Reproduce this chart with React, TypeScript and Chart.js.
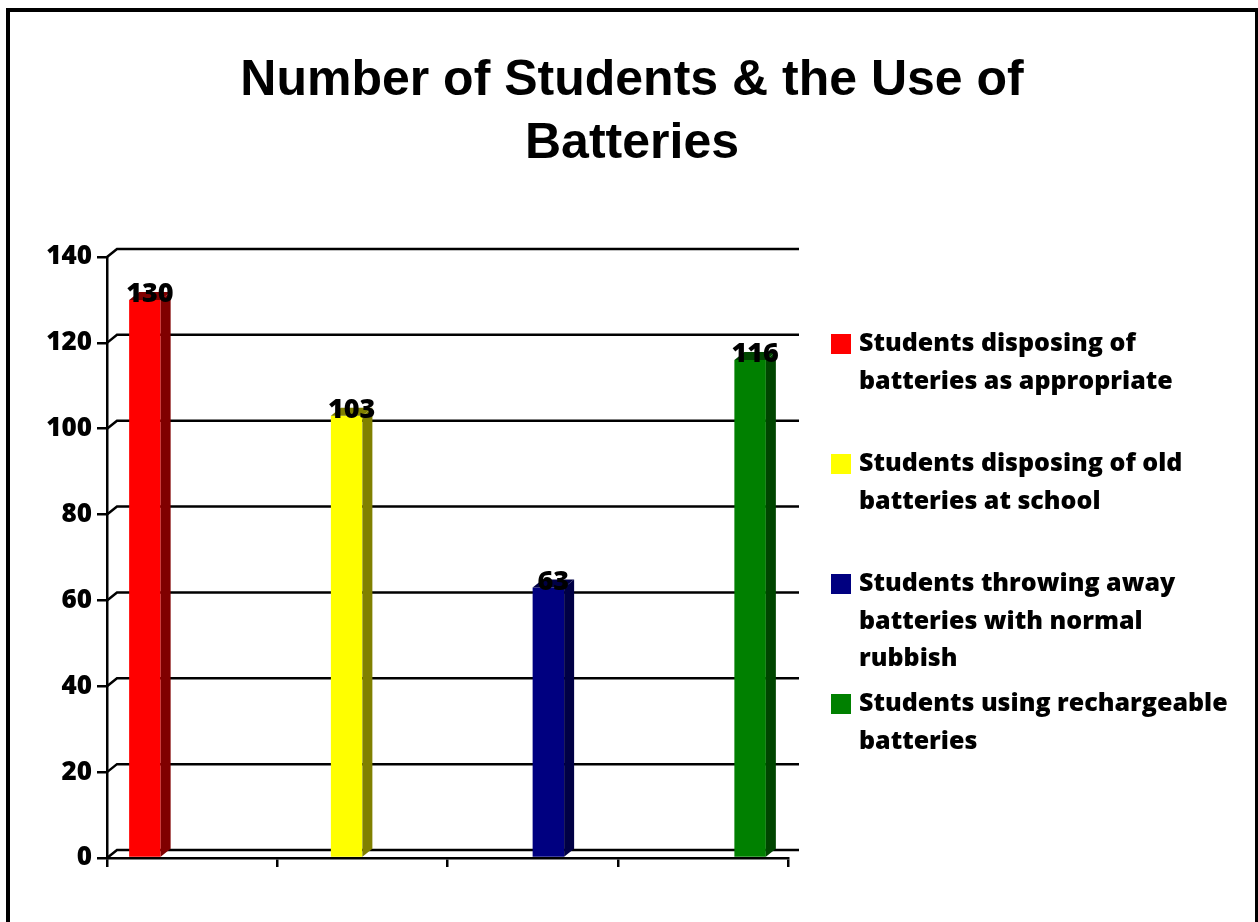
import React, { useEffect, useRef } from "react";
import { Chart, registerables } from "chart.js";

Chart.register(...registerables);

const titleLines = ["Number of Students & the Use of", "Batteries"];
const categories = ["", "", "", ""];
const seriesLabels = [
  ["Students disposing of", "batteries as appropriate"],
  ["Students disposing of old", "batteries at school"],
  ["Students throwing away", "batteries with normal", "rubbish"],
  ["Students using rechargeable", "batteries"],
];
const seriesValues = [130, 103, 63, 116];
const frontColors = ["#FF0000", "#FFFF00", "#000080", "#008000"];
const sideColors = ["#800000", "#808000", "#000045", "#004500"];
const yTicks = { min: 0, max: 140, step: 20 };

const FONT = "'Open Sans', Lato, sans-serif";
const DX = 10;
const DY = -8;

const threeDPlugin = {
  id: "threeD",
  beforeDatasetsDraw(chart: any) {
    const { ctx, chartArea } = chart;
    const ys = chart.scales.y;
    ctx.save();
    ctx.strokeStyle = "#000";
    ctx.lineWidth = 2.5;
    for (let v = yTicks.min; v <= yTicks.max; v += yTicks.step) {
      const y = ys.getPixelForValue(v);
      ctx.beginPath();
      ctx.moveTo(chartArea.left, y);
      ctx.lineTo(chartArea.left + DX, y + DY);
      ctx.lineTo(chartArea.right + DX + 1, y + DY);
      ctx.stroke();
    }
    ctx.restore();
  },
  afterDatasetsDraw(chart: any) {
    const { ctx } = chart;
    ctx.save();
    chart.data.datasets.forEach((ds: any, i: number) => {
      const meta = chart.getDatasetMeta(i);
      meta.data.forEach((el: any, j: number) => {
        const v = ds.data[j];
        if (v === null || v === undefined) return;
        const { x, y, base, width } = el.getProps(["x", "y", "base", "width"], true);
        const l = x - width / 2;
        const r = x + width / 2;
        ctx.fillStyle = sideColors[i];
        ctx.beginPath();
        ctx.moveTo(r, y);
        ctx.lineTo(r + DX, y + DY);
        ctx.lineTo(r + DX, base + DY);
        ctx.lineTo(r, base);
        ctx.closePath();
        ctx.fill();
        ctx.beginPath();
        ctx.moveTo(l, y);
        ctx.lineTo(l + DX, y + DY);
        ctx.lineTo(r + DX, y + DY);
        ctx.lineTo(r, y);
        ctx.closePath();
        ctx.fill();
        ctx.fillStyle = "#000";
        ctx.font = `800 27px ${FONT}`;
        ctx.textAlign = "center";
        ctx.textBaseline = "alphabetic";
        ctx.fillText(String(v), x + DX / 2, y + 2);
      });
    });
    ctx.restore();
  },
  afterDraw(chart: any) {
    const { ctx, chartArea } = chart;
    ctx.save();
    const sx = chartArea.right + 43;
    const startY = chartArea.top + 77;
    const lh = 37.5;
    ctx.font = `800 25px ${FONT}`;
    ctx.textAlign = "left";
    ctx.textBaseline = "middle";
    chart.data.datasets.forEach((ds: any, i: number) => {
      const top = startY + i * 120;
      ctx.fillStyle = frontColors[i];
      ctx.fillRect(sx, top, 20, 20);
      ctx.fillStyle = "#000";
      const lines: string[] = seriesLabels[i];
      lines.forEach((t, k) => {
        ctx.fillText(t, sx + 28, top + 10 + k * lh);
      });
    });
    ctx.restore();
  },
};

export default function App() {
  const ref = useRef<HTMLCanvasElement | null>(null);
  useEffect(() => {
    if (!ref.current) return;
    const chart = new Chart(ref.current, {
      type: "bar",
      data: {
        labels: categories,
        datasets: seriesValues.map((val, i) => ({
          label: seriesLabels[i].join(" "),
          data: seriesValues.map((v, j) => (j === i ? val : null)),
          backgroundColor: frontColors[i],
          borderWidth: 0,
          categoryPercentage: 0.74,
          barPercentage: 1.0,
        })),
      },
      options: {
        animation: false,
        responsive: false,
        layout: { padding: { left: 6, right: 0, top: 0, bottom: 0 } },
        plugins: {
          legend: { display: false },
          tooltip: { enabled: false },
          title: {
            display: true,
            text: titleLines,
            color: "#000",
            font: { family: "'Liberation Sans', Arial, sans-serif", size: 50, weight: "bold", lineHeight: 1.26 },
            padding: { top: 50, bottom: 81 },
          },
        },
        scales: {
          x: {
            grid: { display: true, drawOnChartArea: false, drawTicks: true, tickLength: 9, lineWidth: 2.5, color: "#000", offset: true },
            border: { display: true, color: "#000", width: 2.5 },
            ticks: { display: false },
            afterFit: (s: any) => { s.height = 64; },
          },
          y: {
            min: yTicks.min,
            max: yTicks.max,
            ticks: { stepSize: yTicks.step, color: "#000", padding: 5, font: { family: FONT, size: 26, weight: "800" } },
            grid: { display: true, drawOnChartArea: false, drawTicks: true, tickLength: 10, lineWidth: 2.5, color: "#000" },
            border: { display: true, color: "#000", width: 2.5 },
            afterFit: (s: any) => { s.width = 101; },
          },
          yR: {
            type: "linear",
            position: "right",
            display: true,
            grid: { display: false },
            border: { display: false },
            ticks: { display: false },
            afterFit: (s: any) => { s.width = 470; },
          },
        },
      },
      plugins: [threeDPlugin],
    } as any);
    return () => chart.destroy();
  }, []);
  return (
    <div style={{ position: "fixed", left: 0, top: 0, width: 1258, height: 922, overflow: "hidden", background: "#fff" }}>
      <canvas ref={ref} width={1258} height={922} style={{ position: "absolute", left: 0, top: 0, width: 1258, height: 922 }} />
      <div
        style={{
          position: "absolute",
          left: 6,
          top: 8,
          width: 1253,
          height: 1000,
          boxSizing: "border-box",
          borderLeft: "4px solid #000",
          borderTop: "4px solid #000",
          borderRight: "4px solid #000",
          pointerEvents: "none",
        }}
      />
    </div>
  );
}
